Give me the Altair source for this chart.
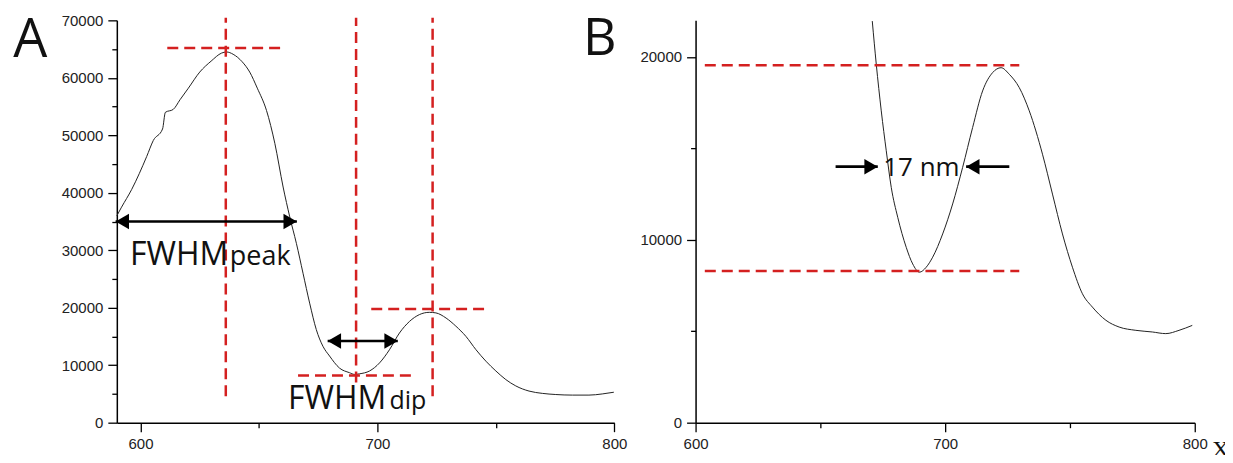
import altair as alt
import pandas as pd

# ---------------- data ----------------
# Panel A: full spectrum
a_nm = [590.0, 592.0, 596.3, 602.6, 605.4, 609.3, 610.5, 613.8, 616.7, 620.2, 625.0,
        629.8, 634.2, 636.3, 639.1, 642.9, 646.1, 649.3, 653.2, 656.7, 660.2, 663.0,
        665.8, 668.6, 671.4, 674.2, 677.0, 679.8, 684.0, 688.2, 690.3, 692.4, 696.7,
        700.9, 705.1, 709.3, 713.5, 717.7, 721.9, 724.7, 729.0, 733.1, 737.4, 741.6,
        745.8, 750.0, 754.2, 758.4, 764.0, 769.6, 775.3, 782.3, 789.3, 794.9, 799.8]
a_counts = [36000, 37500, 40600, 46300, 49100, 51100, 54000, 54500, 56200, 58200, 61000,
            62900, 64300, 64500, 64100, 62800, 61000, 58200, 54300, 48600, 41000, 35800,
            31200, 26000, 20800, 16200, 13300, 11600, 9500, 8700, 8400, 8500, 9000,
            10400, 12700, 15600, 17600, 18800, 19200, 19100, 18200, 16800, 15000, 12700,
            10700, 9000, 7500, 6400, 5500, 5100, 4900, 4800, 4800, 5000, 5300]

# Panel B: zoom on the dip
b_nm = [670.8, 672.4, 674.4, 676.4, 678.4, 681.0, 684.4, 687.0, 689.7, 692.4, 695.0,
        699.0, 703.0, 707.0, 711.0, 715.0, 719.0, 722.4, 725.7, 729.7, 733.7, 739.0,
        743.0, 747.0, 751.0, 755.0, 759.0, 764.4, 769.7, 776.4, 783.0, 788.4, 793.7, 799.0]
b_counts = [21960, 19600, 17050, 14870, 12870, 11230, 9590, 8680, 8230, 8500, 9050,
            10320, 11960, 13960, 16140, 18140, 19140, 19410, 19050, 18320, 17050, 14680,
            12500, 10320, 8500, 7050, 6320, 5600, 5230, 5050, 4960, 4870, 5050, 5320]

# dashed red guide lines (x1, x2, y1, y2)
a_guides_x1 = [636.0, 691.0, 723.3, 611.3, 697.4, 666.5]
a_guides_x2 = [636.0, 691.0, 723.3, 660.4, 746.5, 715.6]
a_guides_y1 = [4600, 7000, 4600, 65200, 19800, 8200]
a_guides_y2 = [70470, 70470, 70470, 65200, 19800, 8200]

b_guides_x1 = [603.7, 603.7]
b_guides_x2 = [729.7, 729.7]
b_guides_y = [19540, 8290]

# double-headed arrows in A (x1, x2, y)
a_arrow_x1 = [589.5, 679.0]
a_arrow_x2 = [666.0, 708.6]
a_arrow_y = [35000, 14200]

# single arrows in B
b_arrow_x1 = [656.1, 708.4]
b_arrow_x2 = [673.0, 725.7]
b_arrow_y = [14000, 14000]
b_arrow_tip_right = [673.0]
b_arrow_tip_left = [708.4]

# ---------------- styles ----------------
RED = "#d42020"
INK = "#111111"
TXT_FONT = "Open Sans"


def major_axis(orient, values):
    return alt.Axis(orient=orient, values=values, format="d", title=None, grid=False,
                    tickSize=9, tickWidth=1.3, tickColor="black",
                    domainColor="black", domainWidth=1.5,
                    labelFont="Liberation Sans", labelFontSize=15, labelColor="#222",
                    labelPadding=5, labelFlush=False, labelOverlap=False)


def minor_axis(orient, values):
    return alt.Axis(orient=orient, values=values, title=None, grid=False, labels=False,
                    domain=False, tickSize=5, tickWidth=1.3, tickColor="black")


def panel(spec_df, sx, sy, xmaj, xmin, ymaj, ymin, guides_df, shafts_df,
          tips_r, tips_l, texts, pix_texts, w, h):
    line = alt.Chart(spec_df).mark_line(color="#222", strokeWidth=1,
                                        interpolate="monotone").encode(
        x=alt.X("nm:Q", scale=sx, axis=major_axis("bottom", xmaj)),
        y=alt.Y("v:Q", scale=sy, axis=major_axis("left", ymaj)),
    )
    guides = alt.Chart(guides_df).mark_rule(color=RED, strokeWidth=2.5,
                                            strokeDash=[11, 6]).encode(
        x=alt.X("x1:Q", scale=sx, axis=minor_axis("bottom", xmin)),
        x2="x2:Q",
        y=alt.Y("y1:Q", scale=sy, axis=minor_axis("left", ymin)),
        y2="y2:Q",
    )
    shafts = alt.Chart(shafts_df).mark_rule(color="black", strokeWidth=2.6).encode(
        x=alt.X("x1:Q", scale=sx, axis=None),
        x2="x2:Q",
        y=alt.Y("y:Q", scale=sy, axis=None),
    )
    layers = [line, guides, shafts]
    if len(tips_r):
        layers.append(alt.Chart(tips_r).mark_point(
            shape="triangle-right", filled=True, size=240, color="black",
            opacity=1, xOffset=-6.7).encode(
            x=alt.X("x:Q", scale=sx, axis=None), y=alt.Y("y:Q", scale=sy, axis=None)))
    if len(tips_l):
        layers.append(alt.Chart(tips_l).mark_point(
            shape="triangle-left", filled=True, size=240, color="black",
            opacity=1, xOffset=6.7).encode(
            x=alt.X("x:Q", scale=sx, axis=None), y=alt.Y("y:Q", scale=sy, axis=None)))
    for (tx, ty, label, size) in texts:
        layers.append(alt.Chart(pd.DataFrame({"x": [tx], "y": [ty], "t": [label]})).mark_text(
            font=TXT_FONT, fontSize=size, color=INK, align="left", baseline="alphabetic").encode(
            x=alt.X("x:Q", scale=sx, axis=None), y=alt.Y("y:Q", scale=sy, axis=None),
            text="t:N"))
    for (px, py, label, size, font) in pix_texts:
        layers.append(alt.Chart(pd.DataFrame({"t": [label]})).mark_text(
            font=font, fontSize=size, color=INK, align="left", baseline="alphabetic").encode(
            x=alt.value(px), y=alt.value(py), text="t:N"))
    return alt.layer(*layers).resolve_axis(x="independent", y="independent").properties(
        width=w, height=h)


# ---------------- panel A ----------------
df_a = pd.DataFrame({"nm": a_nm, "v": a_counts})
guides_a = pd.DataFrame({"x1": a_guides_x1, "x2": a_guides_x2,
                         "y1": a_guides_y1, "y2": a_guides_y2})
shafts_a = pd.DataFrame({"x1": a_arrow_x1, "x2": a_arrow_x2, "y": a_arrow_y})
tips_r_a = pd.DataFrame({"x": a_arrow_x2, "y": a_arrow_y})
tips_l_a = pd.DataFrame({"x": a_arrow_x1, "y": a_arrow_y})
sx_a = alt.Scale(domain=[590, 800], nice=False, zero=False)
sy_a = alt.Scale(domain=[0, 70000], nice=False, zero=False)
texts_a = [(595.6, 27450, "FWHM", 32), (637.7, 27450, "peak", 27),
           (662.3, 2300, "FWHM", 32), (705.1, 2300, "dip", 25)]
pix_a = [(-103.7, 36.3, "A", 54, TXT_FONT)]
panel_a = panel(df_a, sx_a, sy_a, [600, 700, 800], [650, 750],
                list(range(0, 70001, 10000)), list(range(5000, 70000, 10000)),
                guides_a, shafts_a, tips_r_a, tips_l_a, texts_a, pix_a, 498.3, 403)

# ---------------- panel B ----------------
df_b = pd.DataFrame({"nm": b_nm, "v": b_counts})
guides_b = pd.DataFrame({"x1": b_guides_x1, "x2": b_guides_x2,
                         "y1": b_guides_y, "y2": b_guides_y})
shafts_b = pd.DataFrame({"x1": b_arrow_x1, "x2": b_arrow_x2, "y": b_arrow_y})
tips_r_b = pd.DataFrame({"x": b_arrow_tip_right, "y": [b_arrow_y[0]]})
tips_l_b = pd.DataFrame({"x": b_arrow_tip_left, "y": [b_arrow_y[1]]})
sx_b = alt.Scale(domain=[600, 800], nice=False, zero=False)
sy_b = alt.Scale(domain=[0, 22000], nice=False, zero=False)
texts_b = [(675.2, 13500, "17 nm", 26)]
pix_b = [(-112.7, 35, "B", 52, TXT_FONT), (517.3, 437, "X", 24, "Liberation Serif")]
panel_b = panel(df_b, sx_b, sy_b, [600, 700, 800], [650, 750],
                [0, 10000, 20000], [5000, 15000],
                guides_b, shafts_b, tips_r_b, tips_l_b, texts_b, pix_b, 500, 403)

chart = alt.hconcat(panel_a, panel_b, spacing=80.7, bounds="flush").properties(
    padding={"left": 5, "top": 5, "right": -5, "bottom": -7}
).configure_view(stroke=None)

chart.save("out.html", embed_options={"renderer": "svg", "actions": False})
